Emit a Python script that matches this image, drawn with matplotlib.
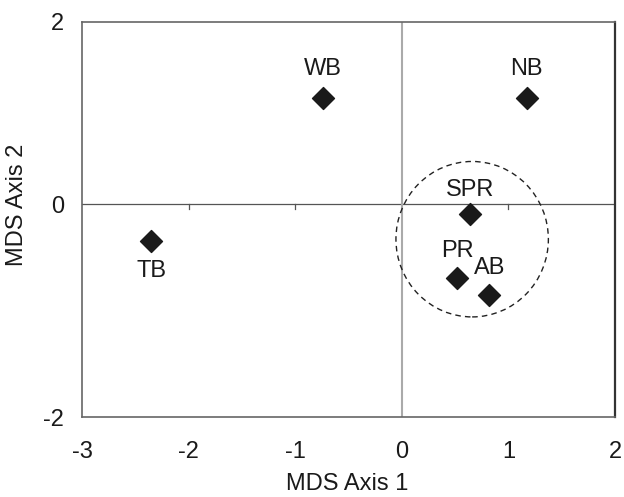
import matplotlib
matplotlib.use("Agg")
import matplotlib.pyplot as plt
from matplotlib.patches import Ellipse

plt.rcParams['font.family'] = ['Liberation Sans', 'DejaVu Sans']

sites = ["WB", "NB", "TB", "SPR", "PR", "AB"]
axis1 = [-0.74, 1.17, -2.35, 0.64, 0.52, 0.82]
axis2 = [1.00, 1.00, -0.35, -0.09, -0.69, -0.85]
# label offsets in points (dx, dy) to text baseline
label_off = [(0, 16), (0, 16), (0, -26), (0, 13), (0, 15), (0, 15)]

group_center = (0.66, -0.33)
group_w, group_h = 1.43, 1.46

xlim = (-3, 2)
ylim = (-2, 1.71)
xticks = [-3, -2, -1, 0, 1, 2]
yticks = [-2, 0, ylim[1]]
ytick_labels = ["-2", "0", "2"]

fig = plt.figure(figsize=(6.24, 4.97), dpi=100)
ax = fig.add_axes([82/624, 1 - 417/497, (615-82)/624, (417-22)/497])
ax.set_xlim(*xlim)
ax.set_ylim(*ylim)

ax.axhline(0, color='#555555', lw=0.9, zorder=1)
ax.axvline(0, color='#aaaaaa', lw=1.5, zorder=1)
for t in xticks:
    if t not in (xlim[0], 0, xlim[1]):
        ax.plot([t, t], [0, -0.045], color='#555555', lw=0.9, zorder=1)

ax.add_patch(Ellipse(group_center, group_w, group_h, fill=False,
                     ls=(0, (4, 3)), lw=1.0, color='#222222', zorder=2))

ax.scatter(axis1, axis2, marker='D', s=125, color='#1a1a1a', zorder=3)
for name, x, y, (dx, dy) in zip(sites, axis1, axis2, label_off):
    ax.annotate(name, (x, y), xytext=(dx, dy), textcoords='offset points',
                ha='center', va='baseline', fontsize=17, color='#1a1a1a')

ax.set_xticks(xticks)
ax.set_yticks(yticks)
ax.set_xticklabels([str(t) for t in xticks])
ax.set_yticklabels(ytick_labels)
ax.tick_params(length=0, labelsize=17, colors='#1a1a1a')
ax.tick_params(axis='x', pad=17)
ax.tick_params(axis='y', pad=13)
for side in ['left', 'bottom', 'top']:
    ax.spines[side].set_color('#666666')
    ax.spines[side].set_linewidth(1.2)
ax.spines['right'].set_color('#333333')
ax.spines['right'].set_linewidth(1.6)

ax.set_xlabel("MDS Axis 1", fontsize=17, color='#1a1a1a', va='top')
ax.set_ylabel("MDS Axis 2", fontsize=17, color='#1a1a1a')
ax.xaxis.set_label_coords(0.497, -0.142)
ax.yaxis.set_label_coords(-0.101, 0.537)

fig.savefig("out.png", dpi=100)
